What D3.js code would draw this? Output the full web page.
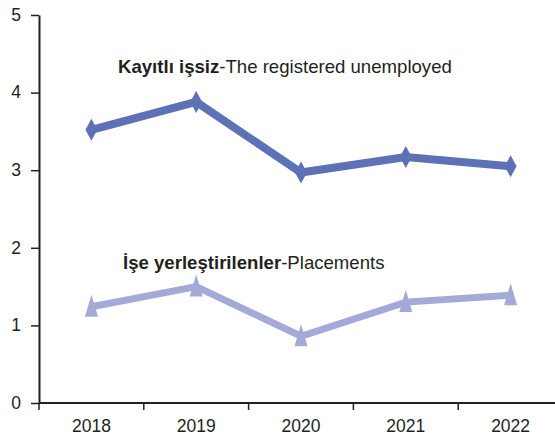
<!DOCTYPE html>
<html><head><meta charset="utf-8">
<script src="https://cdn.jsdelivr.net/npm/d3@7"></script>
<style>body{margin:0;background:#fff}svg{display:block}text{font-family:"Liberation Sans",Arial,sans-serif}</style>
</head><body><svg id="c" width="555" height="438"></svg>
<script>
const years = ["2018","2019","2020","2021","2022"];
const registered = [3.52, 3.88, 2.97, 3.17, 3.05];
const placements = [1.24, 1.50, 0.86, 1.30, 1.39];
const yTicks = [0,1,2,3,4,5];

const svg = d3.select("#c");
const x = d3.scaleBand().domain(years).range([39, 563]).padding(0);
const y = d3.scaleLinear().domain([0,5]).range([403, 15]);
const ink = "#231f20";
const font = "'Liberation Sans',Arial,sans-serif";

// y axis
const ya = svg.append("g").attr("transform","translate(39,0)")
  .call(d3.axisLeft(y).tickValues(yTicks).tickFormat(d3.format("d")).tickSize(8).tickPadding(10).tickSizeOuter(0));
ya.selectAll("text").attr("font-size",17.5).attr("fill",ink).style("font-family",font).attr("dy","0.3em");
ya.selectAll("line").attr("stroke",ink).attr("stroke-width",1.5);
ya.select(".domain").attr("stroke",ink).attr("stroke-width",2);

// x axis
const xa = svg.append("g").attr("transform","translate(0,403)")
  .call(d3.axisBottom(x).tickSize(0).tickPadding(17).tickSizeOuter(0));
xa.select(".domain").attr("d","M39,0H555").attr("stroke",ink).attr("stroke-width",2);
xa.selectAll("text").attr("font-size",17.5).attr("fill",ink).style("font-family",font);
xa.selectAll(".boundary").data(years).enter().append("line")
  .attr("x1",d=>x(d)).attr("x2",d=>x(d)).attr("y1",0).attr("y2",7)
  .attr("stroke",ink).attr("stroke-width",1.5);

const cx = d => x(d) + x.bandwidth()/2;
const line = d3.line().x((d,i)=>cx(years[i])).y(d=>y(d));

function series(vals, color, width, shape){
  svg.append("path").datum(vals).attr("d",line).attr("fill","none")
    .attr("stroke",color).attr("stroke-width",width).attr("stroke-linejoin","miter");
  svg.selectAll(null).data(vals).enter().append("path")
    .attr("transform",(d,i)=>`translate(${cx(years[i])},${y(d)})`)
    .attr("d", shape).attr("fill",color);
}
series(registered, "#5d71b7", 8, "M0,-11L6,0L0,11L-6,0Z");
series(placements, "#a4aad8", 7, "M0,-12L6.5,10L-6.5,10Z");

const t1 = svg.append("text").attr("x",118).attr("y",73).attr("font-size",18.6).attr("fill",ink);
t1.append("tspan").attr("font-weight","bold").text("Kayıtlı işsiz");
t1.append("tspan").text("-The registered unemployed");
const t2 = svg.append("text").attr("x",123).attr("y",269).attr("font-size",18.6).attr("fill",ink);
t2.append("tspan").attr("font-weight","bold").text("İşe yerleştirilenler");
t2.append("tspan").text("-Placements");
</script></body></html>
